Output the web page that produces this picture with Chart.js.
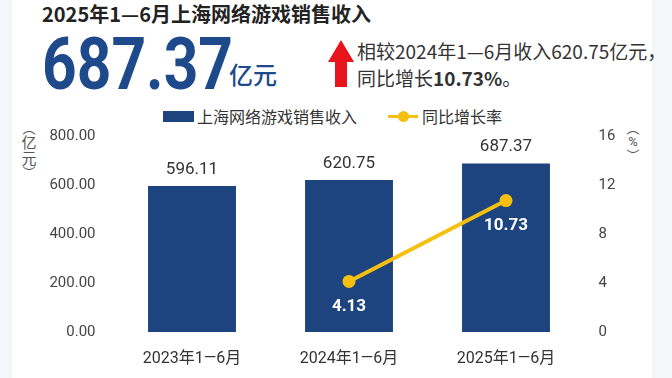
<!DOCTYPE html>
<html>
<head>
<meta charset="utf-8">
<script src="https://cdn.jsdelivr.net/npm/chart.js@4"></script>
<style>
  html,body{margin:0;padding:0;}
  body{width:672px;height:378px;background:#f4f6f9;position:relative;overflow:hidden;font-family:'Noto Sans CJK SC','Noto Sans',sans-serif;}
  #card{position:absolute;left:12px;top:0;width:640px;height:378px;background:#fff;}
  .t{position:absolute;white-space:nowrap;}
  .v{position:absolute;text-align:center;color:#555;}
  .v span{display:block;}
  #c{position:absolute;left:0;top:0;}
</style>
</head>
<body>
<div id="card"></div>
<div class="t" style="left:42px;top:3px;font-size:20px;line-height:22px;font-weight:700;color:#222;">2025年1—6月上海网络游戏销售收入</div>
<div class="t" style="left:42px;top:29px;font-size:72px;line-height:72px;font-weight:700;color:#1e4a8c;font-family:Roboto,sans-serif;transform:scaleX(0.84);transform-origin:0 0;">687.37</div>
<div class="t" style="left:229px;top:61px;font-size:24px;line-height:26px;font-weight:500;color:#1e4a8c;">亿元</div>
<svg style="position:absolute;left:326px;top:39px;" width="30" height="50" viewBox="0 0 30 50">
  <polygon points="15,1 28,23 21,23 21,48 9,48 9,23 2,23" fill="#e8141b"/>
</svg>
<div class="t" style="left:357px;top:40px;font-size:19px;line-height:22px;color:#333;">相较2024年1—6月收入620.75亿元，</div>
<div class="t" style="left:357px;top:67px;font-size:19px;line-height:22px;color:#333;">同比增长<b>10.73%</b>。</div>

<div style="position:absolute;left:163px;top:111px;width:31px;height:11px;background:#1e4480;"></div>
<div class="t" style="left:197px;top:106px;font-size:16px;line-height:20px;color:#333;">上海网络游戏销售收入</div>
<div style="position:absolute;left:388px;top:115px;width:30px;height:3px;background:#f5c00f;"></div>
<div style="position:absolute;left:398px;top:111px;width:11px;height:11px;border-radius:50%;background:#f5c00f;"></div>
<div class="t" style="left:422px;top:106px;font-size:16px;line-height:20px;color:#333;">同比增长率</div>

<div class="v" style="left:21px;top:122px;width:16px;font-size:15px;">
  <span style="line-height:12px;font-size:13px;">︵</span><span style="line-height:16px;">亿</span><span style="line-height:16px;">元</span><span style="line-height:12px;font-size:13px;">︶</span>
</div>
<div class="v" style="left:625px;top:122px;width:16px;font-size:13px;">
  <span style="line-height:12px;font-size:13px;">︵</span><span style="line-height:15px;font-family:Roboto,sans-serif;">%</span><span style="line-height:12px;font-size:13px;">︶</span>
</div>

<canvas id="c" width="672" height="378"></canvas>
<script>
const categories = ['2023年1—6月', '2024年1—6月', '2025年1—6月'];
const revenue = [596.11, 620.75, 687.37];
const growth = [null, 4.13, 10.73];
const leftTicks = [0, 200, 400, 600, 800];
const rightTicks = [0, 4, 8, 12, 16];

const NUMFONT = "Roboto,'Noto Sans CJK SC',sans-serif";

const labelPlugin = {
  id: 'valueLabels',
  afterDatasetsDraw(chart) {
    const ctx = chart.ctx;
    ctx.save();
    const barMeta = chart.getDatasetMeta(0);
    ctx.font = '17px ' + NUMFONT;
    ctx.fillStyle = '#333';
    ctx.textAlign = 'center';
    ctx.textBaseline = 'bottom';
    barMeta.data.forEach((el, i) => {
      ctx.fillText(revenue[i].toFixed(2), el.x, el.y - 8);
    });
    const lineMeta = chart.getDatasetMeta(1);
    ctx.font = 'bold 17px ' + NUMFONT;
    ctx.fillStyle = '#ffffff';
    ctx.textBaseline = 'middle';
    lineMeta.data.forEach((el, i) => {
      if (growth[i] === null) return;
      ctx.fillText(growth[i].toFixed(2), el.x, el.y + 25);
    });
    ctx.restore();
  }
};

new Chart(document.getElementById('c'), {
  type: 'bar',
  data: {
    labels: categories,
    datasets: [
      {
        type: 'bar',
        label: '上海网络游戏销售收入',
        data: revenue,
        yAxisID: 'y',
        backgroundColor: '#1e4480',
        categoryPercentage: 1,
        barPercentage: 0.56,
        order: 2
      },
      {
        type: 'line',
        label: '同比增长率',
        data: growth,
        yAxisID: 'y1',
        borderColor: '#f5c00f',
        backgroundColor: '#f5c00f',
        borderWidth: 4,
        pointRadius: 6.5,
        pointBorderWidth: 0,
        pointBackgroundColor: '#f5c00f',
        spanGaps: false,
        order: 1
      }
    ]
  },
  options: {
    responsive: false,
    animation: false,
    devicePixelRatio: 1,
    layout: { padding: { left: 0, right: 27.5, top: 136, bottom: 0 } },
    plugins: { legend: { display: false }, tooltip: { enabled: false } },
    scales: {
      x: {
        grid: { display: false, drawTicks: false },
        border: { display: false },
        ticks: { color: '#333', font: { size: 16, family: NUMFONT }, padding: 17 },
        afterFit(s) { s.height = 46; }
      },
      y: {
        position: 'left',
        min: leftTicks[0], max: leftTicks[leftTicks.length - 1],
        afterBuildTicks(s) { s.ticks = leftTicks.map(v => ({ value: v })); },
        grid: { display: false, drawTicks: false },
        border: { display: false },
        ticks: { color: '#444', font: { size: 15, family: NUMFONT }, padding: 18, callback: v => v.toFixed(2) },
        afterFit(s) { s.width = 113.5; }
      },
      y1: {
        position: 'right',
        min: rightTicks[0], max: rightTicks[rightTicks.length - 1],
        afterBuildTicks(s) { s.ticks = rightTicks.map(v => ({ value: v })); },
        grid: { display: false, drawTicks: false },
        border: { display: false },
        ticks: { color: '#444', font: { size: 15, family: NUMFONT }, padding: 14, callback: v => String(v) },
        afterFit(s) { s.width = 60; }
      }
    }
  },
  plugins: [labelPlugin]
});
</script>
</body>
</html>
